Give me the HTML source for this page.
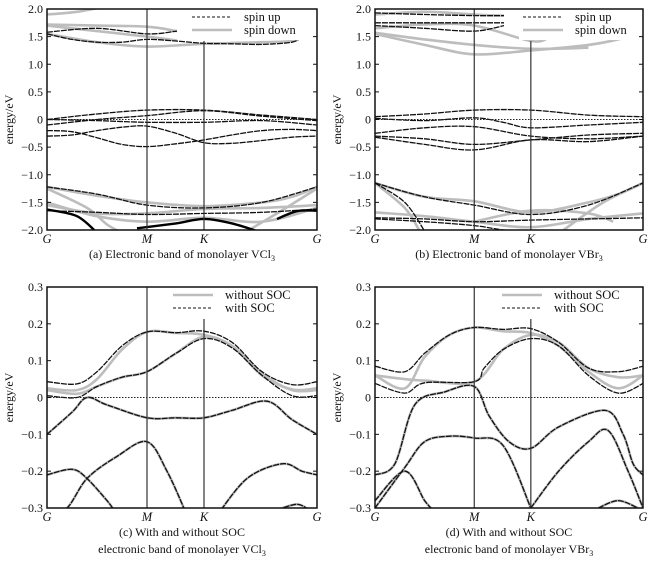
<!DOCTYPE html>
<html><head><meta charset="utf-8">
<style>
html,body{margin:0;padding:0;background:#fff;}
svg{display:block;}
text{font-family:"Liberation Serif",serif;fill:#111;}
</style></head>
<body>
<svg id="fig" width="660" height="561" viewBox="0 0 660 561" xmlns="http://www.w3.org/2000/svg"></svg>
<script>
// ---- k-path labels ----
const kLabels = ["G","M","K","G"];
const kTicks = [0, 1, 1.57, 2.7];
const ticksA = [2.0,1.5,1.0,0.5,0,-0.5,-1.0,-1.5,-2.0];
const tickLabelsA = ["2.0","1.5","1.0","0.5","0","\u22120.5","\u22121.0","\u22121.5","\u22122.0"];
const ticksC = [0.3,0.2,0.1,0,-0.1,-0.2,-0.3];
const tickLabelsC = ["0.3","0.2","0.1","0","\u22120.1","\u22120.2","\u22120.3"];

// ---- panel (a) VCl3 spin up (black) / spin down (gray) ----
const aUp = [
 [[0,0.0],[0.5,0.1],[1,0.17],[1.57,0.17],[2.15,0.08],[2.7,0.0]],
 [[0,-0.1],[0.5,0.0],[1,0.07],[1.57,0.16],[2.15,0.06],[2.7,-0.02]],
 [[0,0.0],[0.5,-0.02],[1,-0.05],[1.57,-0.05],[2.15,-0.02],[2.7,-0.1]],
 [[0,-0.2],[0.25,-0.22],[0.5,-0.33],[0.75,-0.45],[1,-0.49],[1.29,-0.44],[1.57,-0.37],[1.85,-0.28],[2.15,-0.2],[2.45,-0.18],[2.7,-0.2]],
 [[0,-0.3],[0.25,-0.28],[0.5,-0.2],[0.75,-0.14],[1,-0.12],[1.29,-0.25],[1.57,-0.42],[1.85,-0.43],[2.15,-0.38],[2.45,-0.32],[2.7,-0.3]],
 [[0,1.55],[0.25,1.45],[0.5,1.4],[0.75,1.4],[1,1.45],[1.29,1.42],[1.57,1.38],[1.85,1.37],[2.15,1.36],[2.45,1.4],[2.55,1.5]],
 [[0,1.58],[0.5,1.65],[1,1.55],[1.3,1.6]],
 [[0,-1.22],[0.5,-1.35],[1,-1.55],[1.57,-1.6],[2.15,-1.5],[2.7,-1.22]],
 [[0,-1.65],[0.5,-1.68],[1,-1.72],[1.57,-1.7],[2.15,-1.68],[2.7,-1.62]],
 [[0,-1.63],[0.3,-1.75],[0.5,-2.05]],
 [[0.9,-1.97],[1.29,-1.88],[1.57,-1.8],[1.85,-1.88],[2.1,-2.02]],
 [[2.3,-1.8],[2.5,-1.66],[2.7,-1.65]]
];
const aDown = [
 [[0,1.9],[0.3,1.95],[0.6,2.05]],
 [[0,1.72],[0.5,1.7],[1,1.68],[1.3,1.6]],
 [[0,1.7],[0.5,1.6],[1,1.5],[1.3,1.43]],
 [[0,1.55],[0.5,1.4],[1,1.32],[1.57,1.37],[2.15,1.4],[2.45,1.42],[2.55,1.5]],
 [[0,-1.22],[0.5,-1.38],[1,-1.5],[1.57,-1.57],[2.15,-1.5],[2.45,-1.4],[2.7,-1.22]],
 [[0,-1.55],[0.5,-1.7],[1,-1.7],[1.57,-1.62],[2.15,-1.6],[2.7,-1.55]],
 [[0,-1.5],[0.5,-1.75],[1,-1.85],[1.57,-1.78],[2.15,-1.85],[2.7,-1.6]],
 [[0,-1.25],[0.4,-1.6],[0.6,-1.9],[0.75,-2.05]],
 [[2.0,-2.02],[2.3,-1.7],[2.7,-1.25]]
];
// ---- panel (b) VBr3 ----
const bUp = [
 [[0,0.05],[0.5,0.1],[1,0.17],[1.57,0.17],[2.15,0.08],[2.7,0.05]],
 [[0,0.02],[0.5,-0.02],[1,0.03],[1.29,-0.05],[1.57,-0.15],[2.15,-0.1],[2.7,-0.05]],
 [[0,-0.25],[0.5,-0.15],[1,-0.13],[1.57,-0.3],[2.15,-0.35],[2.7,-0.3]],
 [[0,-0.3],[0.5,-0.35],[1,-0.45],[1.57,-0.37],[2.15,-0.28],[2.7,-0.25]],
 [[0,-0.32],[0.5,-0.45],[1,-0.55],[1.57,-0.37],[2.15,-0.4],[2.7,-0.3]],
 [[0,1.93],[0.5,1.9],[1,1.88],[1.3,1.88]],
 [[0,1.75],[0.5,1.75],[1,1.75],[1.3,1.75]],
 [[0,1.7],[0.5,1.65],[1,1.6],[1.3,1.7]],
 [[0,-1.15],[0.5,-1.4],[1,-1.55],[1.57,-1.72],[2.15,-1.55],[2.7,-1.15]],
 [[0,-1.78],[0.5,-1.8],[1,-1.85],[1.57,-1.82],[2.15,-1.8],[2.7,-1.78]],
 [[0,-1.8],[0.5,-1.85],[1,-1.92],[1.3,-2.0],[1.57,-2.02]],
 [[0,-1.15],[0.3,-1.5],[0.5,-2.02]]
];
const bDown = [
 [[0,1.9],[0.5,1.95],[1,1.9],[1.3,1.88]],
 [[0,1.65],[0.5,1.72],[1,1.7],[1.57,1.42],[1.75,1.48]],
 [[0,1.57],[0.5,1.45],[1,1.35],[1.57,1.28],[2.15,1.3]],
 [[0,1.55],[0.5,1.35],[1,1.18],[1.57,1.25],[2.15,1.35],[2.45,1.45],[2.55,1.5]],
 [[0,-1.15],[0.5,-1.4],[1,-1.48],[1.57,-1.68],[2.15,-1.5],[2.45,-1.35],[2.7,-1.15]],
 [[0,-1.68],[0.5,-1.75],[1,-1.85],[1.57,-1.95],[2.15,-1.8],[2.7,-1.7]],
 [[0,-1.15],[0.3,-1.6],[0.45,-2.02]],
 [[1.9,-2.0],[2.3,-1.5],[2.7,-1.15]],
 [[1.0,-1.85],[1.57,-1.65],[2.15,-1.7],[2.4,-1.85]]
];
// ---- panel (c) VCl3 SOC ----
const cWith = [
 [[0,0.043],[0.3,0.037],[0.5,0.07],[0.75,0.14],[1,0.178],[1.29,0.176],[1.57,0.18],[1.85,0.15],[2.15,0.07],[2.45,0.035],[2.7,0.043]],
 [[0,0.005],[0.3,0.0],[0.5,0.03],[0.75,0.055],[1,0.07],[1.29,0.12],[1.57,0.16],[1.85,0.135],[2.15,0.06],[2.45,0.005],[2.7,0.005]],
 [[0,-0.1],[0.25,-0.04],[0.4,0.0],[0.6,-0.02],[1,-0.055],[1.29,-0.055],[1.57,-0.055],[1.85,-0.035],[2.2,-0.01],[2.45,-0.06],[2.7,-0.1]],
 [[0,-0.21],[0.25,-0.195],[0.4,-0.22],[0.6,-0.28],[0.68,-0.31]],
 [[0,-0.32],[0.2,-0.3],[0.4,-0.22],[0.7,-0.16],[1,-0.12],[1.2,-0.2],[1.4,-0.32]],
 [[1.7,-0.32],[2.0,-0.22],[2.35,-0.18],[2.55,-0.2],[2.7,-0.21]],
 [[2.3,-0.305],[2.5,-0.29],[2.62,-0.305]]
];
const cWithout = [
 [[0,0.025],[0.3,0.02],[0.5,0.05],[0.75,0.13],[1,0.178],[1.29,0.175],[1.57,0.17],[1.85,0.14],[2.15,0.06],[2.45,0.022],[2.7,0.025]],
 [[0,0.02],[0.3,0.01],[0.5,0.03],[0.75,0.055],[1,0.07],[1.29,0.12],[1.57,0.165],[1.85,0.14],[2.15,0.065],[2.45,0.02],[2.7,0.02]]
];
// ---- panel (d) VBr3 SOC ----
const dWith = [
 [[0,0.085],[0.3,0.07],[0.5,0.12],[0.75,0.17],[1,0.19],[1.29,0.185],[1.57,0.187],[1.85,0.15],[2.15,0.08],[2.45,0.07],[2.7,0.085]],
 [[0,0.038],[0.3,0.012],[0.5,0.04],[1,0.043],[1.1,0.08],[1.29,0.13],[1.57,0.16],[1.85,0.14],[2.15,0.06],[2.45,0.012],[2.7,0.038]],
 [[0,-0.21],[0.2,-0.18],[0.4,-0.02],[0.7,0.015],[1,0.03],[1.15,-0.05],[1.35,-0.12],[1.57,-0.138],[1.85,-0.08],[2.32,-0.035],[2.5,-0.1],[2.6,-0.18],[2.7,-0.21]],
 [[0,-0.3],[0.3,-0.19],[0.5,-0.12],[0.75,-0.105],[1,-0.11],[1.29,-0.13],[1.57,-0.3]],
 [[1.57,-0.3],[1.85,-0.2],[2.15,-0.12],[2.35,-0.09],[2.55,-0.2],[2.7,-0.3]],
 [[0,-0.28],[0.3,-0.2],[0.5,-0.28],[0.6,-0.31]],
 [[2.25,-0.3],[2.45,-0.28],[2.65,-0.3]]
];
const dWithout = [
 [[0,0.06],[0.3,0.025],[0.5,0.11],[0.75,0.17],[1,0.19],[1.29,0.18],[1.57,0.175],[1.85,0.14],[2.15,0.07],[2.45,0.025],[2.7,0.06]],
 [[0,0.06],[0.3,0.05],[0.5,0.046],[1,0.043],[1.29,0.13],[1.57,0.17],[1.85,0.15],[2.15,0.08],[2.45,0.055],[2.7,0.06]]
];

const NS = "http://www.w3.org/2000/svg";
const svg = document.getElementById("fig");
function mk(tag, attrs, parent) {
  const e = document.createElementNS(NS, tag);
  for (const k in attrs) e.setAttribute(k, attrs[k]);
  (parent || svg).appendChild(e);
  return e;
}
function smoothPath(pts) {
  let d = "M" + pts[0][0].toFixed(1) + "," + pts[0][1].toFixed(1);
  for (let i = 0; i < pts.length - 1; i++) {
    const p0 = pts[Math.max(0, i - 1)], p1 = pts[i], p2 = pts[i + 1], p3 = pts[Math.min(pts.length - 1, i + 2)];
    const c1x = p1[0] + (p2[0] - p0[0]) / 6, c1y = p1[1] + (p2[1] - p0[1]) / 6;
    const c2x = p2[0] - (p3[0] - p1[0]) / 6, c2y = p2[1] - (p3[1] - p1[1]) / 6;
    d += " C" + c1x.toFixed(1) + "," + c1y.toFixed(1) + " " + c2x.toFixed(1) + "," + c2y.toFixed(1) + " " + p2[0].toFixed(1) + "," + p2[1].toFixed(1);
  }
  return d;
}

function panel(cfg) {
  const g = mk("g", {});
  
  
  const L = cfg.left, R = cfg.right, T = cfg.top, B = cfg.bottom;
  const xS = k => L + (k / 2.7) * (R - L);
  const yS = e => T + (cfg.ymax - e) / (cfg.ymax - cfg.ymin) * (B - T);
  const clipId = "clip-" + cfg.name;
  const cp = mk("clipPath", { id: clipId }, g);
  mk("rect", { x: L, y: T, width: R - L, height: B - T }, cp);
  const plot = mk("g", { "clip-path": "url(#" + clipId + ")" }, g);
  cfg.gray.forEach((band, i) => {
    const p = mk("path", { d: smoothPath(band.map(q => [xS(q[0]), yS(q[1])])), fill: "none", stroke: "#bdbdbd", "stroke-width": 2.6 }, plot);
    
    
  });
  cfg.black.forEach((band, i) => {
    const p = mk("path", { d: smoothPath(band.map(q => [xS(q[0]), yS(q[1])])), fill: "none", stroke: "#111", "stroke-width": 1.3, "stroke-dasharray": "6,1" }, plot);
    
    
  });
  if (cfg.thick) cfg.thick.forEach(idx => {
    const band = cfg.black[idx];
    mk("path", { d: smoothPath(band.map(q => [xS(q[0]), yS(q[1])])), fill: "none", stroke: "#000", "stroke-width": 2.4 }, plot);
  });
  const f = mk("line", { x1: L, x2: R, y1: yS(0), y2: yS(0), stroke: "#222", "stroke-width": 1, "stroke-dasharray": "1.5,1.5" }, g);
  
  
  const lg = mk("g", {}, g);
  
  
  mk("rect", { x: cfg.legX - 4, y: T + 1, width: R - cfg.legX + 3, height: 30, fill: "#fff" }, lg);
  cfg.legend.forEach((it, i) => {
    const yy = T + 8 + i * 13;
    if (it.gray) mk("line", { x1: cfg.legX, x2: cfg.legX + 40, y1: yy, y2: yy, stroke: "#bdbdbd", "stroke-width": 2.6 }, lg);
    else mk("line", { x1: cfg.legX, x2: cfg.legX + 40, y1: yy, y2: yy, stroke: "#111", "stroke-width": 1.1, "stroke-dasharray": "3,2" }, lg);
    const t = mk("text", { x: cfg.legX + 52, y: yy + 4, "font-size": 12.5 }, lg);
    t.textContent = it.label;
    
    
  });
  kTicks.slice(1, 3).forEach((k, i) => {
    const top = (i === 1) ? T + 32 : T;
    const v = mk("line", { x1: xS(k), x2: xS(k), y1: top, y2: B, stroke: "#333", "stroke-width": 1.2 }, g);
    
    
  });
  const fr = mk("rect", { x: L, y: T, width: R - L, height: B - T, fill: "none", stroke: "#111", "stroke-width": 1.5 }, g);
  
  
  cfg.ticks.forEach((v, i) => {
    const y = yS(v);
    mk("line", { x1: L, x2: L + 4, y1: y, y2: y, stroke: "#111", "stroke-width": 1 }, g);
    mk("line", { x1: R - 4, x2: R, y1: y, y2: y, stroke: "#111", "stroke-width": 1 }, g);
    const t = mk("text", { x: L - 4, y: y + 4, "font-size": 12, "text-anchor": "end" }, g);
    t.textContent = cfg.tickLabels[i];
    
    
  });
  kTicks.forEach((k, i) => {
    const t = mk("text", { x: xS(k), y: B + 13, "font-size": 12.5, "font-style": "italic", "text-anchor": "middle" }, g);
    t.textContent = kLabels[i];
    
    
  });
  const yt = mk("text", { x: 0, y: 0, "font-size": 12, "text-anchor": "middle", transform: "translate(" + (L - 34) + "," + ((T + B) / 2) + ") rotate(-90)" }, g);
  yt.textContent = "energy/eV";
  
  
  cfg.caption.forEach((c, i) => {
    const t = mk("text", { x: (L + R) / 2, y: B + 28 + i * 17, "font-size": 12, "text-anchor": "middle" }, g);
    t.innerHTML = c;
    
    
  });
}

panel({ name: "panel-a-vcl3", left: 47, right: 317, top: 9, bottom: 230, ymin: -2, ymax: 2,
  ticks: ticksA, tickLabels: tickLabelsA, gray: aDown, black: aUp, thick: [9, 10, 11],
  grayName: "spin-down", blackName: "spin-up", legX: 192,
  legend: [{ label: "spin up" }, { label: "spin down", gray: true }],
  caption: ['(a) Electronic band of monolayer VCl<tspan font-size="8" dy="3">3</tspan>'] });
panel({ name: "panel-b-vbr3", left: 375, right: 643, top: 9, bottom: 230, ymin: -2, ymax: 2,
  ticks: ticksA, tickLabels: tickLabelsA, gray: bDown, black: bUp,
  grayName: "spin-down", blackName: "spin-up", legX: 523,
  legend: [{ label: "spin up" }, { label: "spin down", gray: true }],
  caption: ['(b) Electronic band of monolayer VBr<tspan font-size="8" dy="3">3</tspan>'] });
panel({ name: "panel-c-vcl3-soc", left: 47, right: 317, top: 287, bottom: 508, ymin: -0.3, ymax: 0.3,
  ticks: ticksC, tickLabels: tickLabelsC, gray: cWithout.concat(cWith.slice(2)), black: cWith,
  grayName: "without-soc", blackName: "with-soc", legX: 173,
  legend: [{ label: "without SOC", gray: true }, { label: "with SOC" }],
  caption: ['(c) With and without SOC', 'electronic band of monolayer VCl<tspan font-size="8" dy="3">3</tspan>'] });
panel({ name: "panel-d-vbr3-soc", left: 375, right: 643, top: 287, bottom: 508, ymin: -0.3, ymax: 0.3,
  ticks: ticksC, tickLabels: tickLabelsC, gray: dWithout.concat(dWith.slice(2)), black: dWith,
  grayName: "without-soc", blackName: "with-soc", legX: 502,
  legend: [{ label: "without SOC", gray: true }, { label: "with SOC" }],
  caption: ['(d)  With and without SOC', 'electronic band of monolayer VBr<tspan font-size="8" dy="3">3</tspan>'] });
</script>
</body></html>
